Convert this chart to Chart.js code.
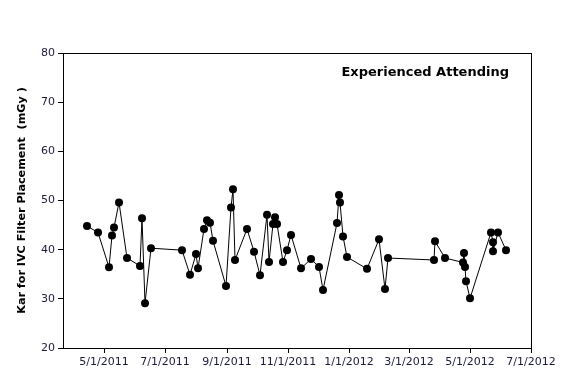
<!DOCTYPE html>
<html>
<head>
    <title>Kar for IVC Filter Placement</title>
    <script src="https://cdn.jsdelivr.net/npm/chart.js"></script>
    <style>
        html, body { margin: 0; padding: 0; background: #fff; }
        #wrap { width: 577px; height: 385px; }
    </style>
</head>
<body>
    <div id="wrap"><canvas id="karChart" width="577" height="385"></canvas></div>

    <script>
        // procedure dates and Kar values (mGy)
        const dates = [
            '2011-04-14', '2011-04-25', '2011-05-06', '2011-05-09', '2011-05-11', '2011-05-16',
            '2011-05-24', '2011-06-06', '2011-06-08', '2011-06-11', '2011-06-17', '2011-07-18',
            '2011-07-26', '2011-08-01', '2011-08-03', '2011-08-09', '2011-08-12', '2011-08-15',
            '2011-08-18', '2011-08-31', '2011-09-05', '2011-09-07', '2011-09-09', '2011-09-21',
            '2011-09-28', '2011-10-04', '2011-10-11', '2011-10-13', '2011-10-17', '2011-10-19',
            '2011-10-21', '2011-10-27', '2011-10-31', '2011-11-04', '2011-11-14', '2011-11-24',
            '2011-12-02', '2011-12-06', '2011-12-20', '2011-12-22', '2011-12-23', '2011-12-26',
            '2011-12-30', '2012-01-19', '2012-01-31', '2012-02-06', '2012-02-09', '2012-03-26',
            '2012-03-27', '2012-04-06', '2012-04-24', '2012-04-25', '2012-04-26', '2012-04-27',
            '2012-05-01', '2012-05-22', '2012-05-24', '2012-05-24', '2012-05-29', '2012-06-06'
        ];
        const kar = [
            44.8, 43.5, 36.4, 42.9, 44.5, 49.6,
            38.3, 36.7, 46.4, 29.1, 40.3, 39.9,
            34.9, 39.1, 36.2, 44.2, 46.0, 45.5,
            41.8, 32.6, 48.6, 52.3, 37.9, 44.2,
            39.6, 34.8, 47.1, 37.5, 45.2, 46.6,
            45.2, 37.5, 39.9, 43.0, 36.2, 38.1,
            36.5, 31.8, 45.4, 51.1, 49.6, 42.7,
            38.5, 36.1, 42.1, 32.0, 38.3, 37.9,
            41.7, 38.3, 37.4, 39.3, 36.5, 33.6,
            30.1, 43.5, 41.5, 39.7, 43.5, 39.9
        ];
        const xTickLabels = ['5/1/2011', '7/1/2011', '9/1/2011', '11/1/2011',
                             '1/1/2012', '3/1/2012', '5/1/2012', '7/1/2012'];
        const xStart = '2011-03-21';
        const xEnd = '2012-07-01';

        // days since epoch, so the x scale is plain linear
        function dayNum(s) {
            const [y, m, d] = s.split('-').map(Number);
            return Date.UTC(y, m - 1, d) / 864e5;
        }
        function tickDay(s) {
            const [m, d, y] = s.split('/').map(Number);
            return Date.UTC(y, m - 1, d) / 864e5;
        }

        const points = dates.map((d, i) => ({ x: dayNum(d), y: kar[i] }));
        const tickMap = {};
        xTickLabels.forEach(t => { tickMap[tickDay(t)] = t; });

        const boxAndTitle = {
            id: 'boxAndTitle',
            beforeDatasetsDraw(chart) {
                const { ctx, chartArea: a } = chart;
                ctx.save();
                ctx.strokeStyle = '#000';
                ctx.lineWidth = 1;
                ctx.strokeRect(Math.round(a.left) + 0.5, Math.round(a.top) + 0.5,
                               Math.round(a.right - a.left), Math.round(a.bottom - a.top));
                ctx.fillStyle = '#000';
                ctx.font = 'bold 13px "DejaVu Sans"';
                ctx.textAlign = 'right';
                ctx.textBaseline = 'middle';
                ctx.fillText('Experienced Attending', 509, 73);
                ctx.restore();
            }
        };

        const ctx = document.getElementById('karChart').getContext('2d');
        new Chart(ctx, {
            type: 'line',
            data: {
                datasets: [{
                    data: points,
                    borderColor: '#000',
                    borderWidth: 1,
                    backgroundColor: '#000',
                    pointRadius: 4,
                    pointBorderWidth: 0,
                    pointBackgroundColor: '#000',
                    tension: 0,
                    fill: false
                }]
            },
            options: {
                responsive: false,
                animation: false,
                layout: { padding: { top: 53, right: 46, bottom: 0, left: 0 } },
                plugins: { legend: { display: false }, tooltip: { enabled: false } },
                scales: {
                    x: {
                        type: 'linear',
                        min: dayNum(xStart),
                        max: dayNum(xEnd),
                        border: { display: false },
                        grid: { drawOnChartArea: false, drawTicks: true, tickLength: 5, color: '#000' },
                        afterBuildTicks(scale) {
                            scale.ticks = xTickLabels.map(t => ({ value: tickDay(t) }));
                        },
                        afterFit(scale) { scale.height = 37; },
                        ticks: {
                            autoSkip: false,
                            maxRotation: 0,
                            padding: 3,
                            color: '#1a1a3a',
                            font: { family: 'DejaVu Sans', size: 11 },
                            callback: v => tickMap[v] || ''
                        }
                    },
                    y: {
                        min: 20,
                        max: 80,
                        border: { display: false },
                        grid: { drawOnChartArea: false, drawTicks: true, tickLength: 5, color: '#000' },
                        afterFit(scale) { scale.width = 63; },
                        ticks: {
                            stepSize: 10,
                            padding: 3,
                            color: '#1a1a3a',
                            font: { family: 'DejaVu Sans', size: 11 }
                        },
                        title: {
                            display: true,
                            text: 'Kar for IVC Filter Placement  (mGy )',
                            color: '#000',
                            font: { family: 'DejaVu Sans', size: 11.2, weight: 'bold' },
                            padding: { top: 15, bottom: 0 }
                        }
                    }
                }
            },
            plugins: [boxAndTitle]
        });
    </script>
</body>
</html>
